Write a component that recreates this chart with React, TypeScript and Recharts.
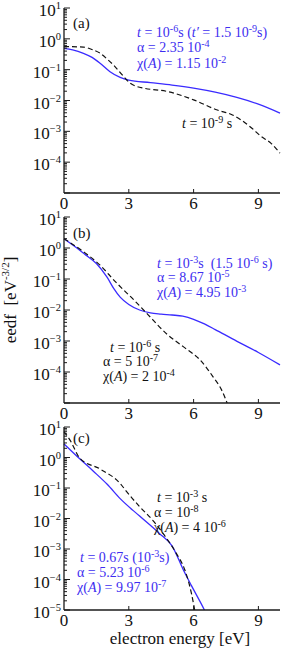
import React from 'react';
import { LineChart, Line, XAxis, YAxis } from 'recharts';

const BLUE = '#3a2bff';
const TEXT_BLUE = '#3d2ef0';
const AXIS = '#1a1a1a';
const FONT = '"Liberation Serif", "Times New Roman", serif';

// energy [eV] / eedf values
const energyA_blue = [0, 0.4, 0.9, 1.3, 1.67, 2.13, 2.6, 3.0, 4.0, 5.0, 6.0, 7.0, 8.0, 9.0, 10];
const eedfA_blue = [0.49, 0.44, 0.34, 0.25, 0.162, 0.086, 0.056, 0.0457, 0.038, 0.0316, 0.0251, 0.0186, 0.0126, 0.0076, 0.0039];
const energyA_dash = [0, 0.9, 1.3, 1.67, 2.0, 2.3, 2.77, 3.07, 3.4, 3.7, 4.8, 6.0, 7.1, 7.8, 8.2, 8.7, 9.1, 9.6, 10];
const eedfA_dash = [0.56, 0.54, 0.45, 0.34, 0.22, 0.14, 0.059, 0.036, 0.028, 0.025, 0.0195, 0.0105, 0.0049, 0.0034, 0.00234, 0.00126, 0.00071, 0.0004, 0.000195];

const energyB_blue = [0, 0.5, 1.0, 1.5, 2.0, 2.3, 2.6, 3.0, 3.5, 4.0, 4.5, 5.0, 5.5, 6.0, 6.5, 7.0, 7.8, 9.0, 10];
const eedfB_blue = [2.0, 1.12, 0.6, 0.316, 0.112, 0.05, 0.026, 0.0151, 0.01, 0.0081, 0.0074, 0.0069, 0.0063, 0.005, 0.00355, 0.00234, 0.00117, 0.000427, 0.00017];
const energyB_dash = [0, 0.9, 1.67, 2.4, 2.75, 3.2, 3.83, 4.8, 5.6, 6.3, 6.9, 7.3, 7.55, 7.7];
const eedfB_dash = [2.0, 0.76, 0.28, 0.079, 0.045, 0.0224, 0.0078, 0.00158, 0.0006, 0.000245, 0.00007, 0.000026, 0.00001, 0.000005];

const energyC_blue = [0, 0.74, 1.36, 2.0, 2.6, 3.5, 4.4, 5.0, 5.55, 5.9, 6.5, 6.7];
const eedfC_blue = [2.8, 0.89, 0.355, 0.132, 0.0447, 0.012, 0.0033, 0.00126, 0.00019, 0.000063, 0.00001, 0.000005];
const energyC_dash = [0, 0.3, 0.74, 1.67, 2.6, 2.9, 3.5, 4.1, 4.7, 5.2, 5.6, 5.9, 6.05, 6.1];
const eedfC_dash = [7.1, 3.5, 0.93, 0.42, 0.141, 0.076, 0.0245, 0.0089, 0.0025, 0.00072, 0.0002, 0.000035, 0.00001, 0.0000063];

const xTicks = [0, 3, 6, 9];
const majorTicks = [1e-5, 1e-4, 1e-3, 1e-2, 1e-1, 1, 10];
const minorMult = [2, 3, 4, 5, 6, 7, 8, 9];

const yTicks: number[] = [];
majorTicks.forEach((m, i) => {
  yTicks.push(m);
  if (i < majorTicks.length - 1) minorMult.forEach((k) => yTicks.push(m * k));
});

const toData = (e: number[], v: number[]) => e.map((x, i) => ({ e: x, v: v[i] }));

const YTick = (props: any, showBottom: boolean) => {
  const { x, y, payload } = props;
  const lg = Math.log10(payload.value);
  const major = Math.abs(lg - Math.round(lg)) < 1e-6;
  const exp = Math.round(lg);
  const showLabel = major && (showBottom || exp > -5);
  return (
    <g>
      <line x1={x} x2={x + (major ? 6 : 3)} y1={y} y2={y} stroke={AXIS} strokeWidth={1} />
      {showLabel && (
        <text x={x - 3} y={y + 8} textAnchor="end" fontSize={17} fontFamily={FONT} fill="#111">
          10
          <tspan dy={-7} fontSize={10.5}>
            {exp < 0 ? '\u2212' + Math.abs(exp) : String(exp)}
          </tspan>
        </text>
      )}
    </g>
  );
};

const XTick = (props: any) => {
  const { x, y, payload } = props;
  return (
    <g>
      {payload.value !== 0 && <line x1={x} x2={x} y1={y} y2={y - 4} stroke={AXIS} strokeWidth={1} />}
      <text x={x} y={y + 16} textAnchor="middle" fontSize={17} fontFamily={FONT} fill="#111">
        {payload.value}
      </text>
    </g>
  );
};

interface PanelProps {
  top: number;
  height: number;
  xAxisHeight: number;
  blue: { e: number; v: number }[];
  dash: { e: number; v: number }[];
  showBottom?: boolean;
}

const Panel: React.FC<PanelProps> = ({ top, height, xAxisHeight, blue, dash, showBottom = false }) => (
  <div style={{ position: 'absolute', left: 0, top }}>
    <LineChart width={281} height={height} margin={{ top: 14, right: 1, left: 0, bottom: 0 }}>
      <XAxis
        dataKey="e"
        type="number"
        domain={[0, 10]}
        ticks={xTicks}
        interval={0}
        height={xAxisHeight}
        tickSize={0}
        tickMargin={0}
        tickLine={false}
        axisLine={{ stroke: AXIS, strokeWidth: 1.3 }}
        tick={XTick}
      />
      <XAxis xAxisId="top" orientation="top" type="number" domain={[0, 10]} height={0} tick={false} tickLine={false} axisLine={{ stroke: AXIS, strokeWidth: 1.3 }} />
      <YAxis
        type="number"
        scale="log"
        domain={[1e-5, 10]}
        allowDataOverflow
        ticks={yTicks}
        interval={0}
        width={64}
        tickSize={0}
        tickMargin={0}
        tickLine={false}
        axisLine={{ stroke: AXIS, strokeWidth: 1.3 }}
        tick={(p: any) => YTick(p, showBottom)}
      />
      <YAxis yAxisId="right" orientation="right" width={0} tick={false} tickLine={false} axisLine={{ stroke: AXIS, strokeWidth: 1.3 }} />
      <Line data={blue} dataKey="v" type="monotone" stroke={BLUE} strokeWidth={1.3} dot={false} isAnimationActive={false} />
      <Line data={dash} dataKey="v" type="monotone" stroke="#111" strokeWidth={1.2} strokeDasharray="5 3" dot={false} isAnimationActive={false} />
    </LineChart>
  </div>
);

type Seg = { t: string; sup?: boolean; it?: boolean };

const Rich: React.FC<{ x: number; y: number; segs: Seg[]; fill: string; size?: number }> = ({ x, y, segs, fill, size = 14 }) => {
  let up = false;
  return (
    <text x={x} y={y} fontSize={size} fontFamily={FONT} fill={fill}>
      {segs.map((s, i) => {
        let dy = 0;
        if (s.sup && !up) { dy = -5; up = true; }
        else if (!s.sup && up) { dy = 5; up = false; }
        return (
          <tspan key={i} dy={dy} fontSize={s.sup ? size * 0.72 : size} fontStyle={s.it ? 'italic' : 'normal'}>
            {s.t}
          </tspan>
        );
      })}
    </text>
  );
};

const Annotations = () => (
  <svg width={281} height={648} style={{ position: 'absolute', left: 0, top: 0, pointerEvents: 'none' }}>
    {/* panel (a) */}
    <Rich x={73} y={28} fill="#111" size={15} segs={[{ t: '(a)' }]} />
    <Rich x={137} y={37} fill={TEXT_BLUE} segs={[{ t: 't', it: true }, { t: ' = 10' }, { t: '-6', sup: true }, { t: 's (' }, { t: 't\u2032', it: true }, { t: ' = 1.5 10' }, { t: '-9', sup: true }, { t: 's)' }]} />
    <Rich x={137} y={52} fill={TEXT_BLUE} segs={[{ t: '\u03b1 = 2.35 10' }, { t: '-4', sup: true }]} />
    <Rich x={137} y={68} fill={TEXT_BLUE} segs={[{ t: '\u03c7(' }, { t: 'A', it: true }, { t: ') = 1.15 10' }, { t: '-2', sup: true }]} />
    <Rich x={182} y={128} fill="#111" segs={[{ t: 't', it: true }, { t: ' = 10' }, { t: '-9', sup: true }, { t: ' s' }]} />

    {/* panel (b) */}
    <Rich x={73} y={238} fill="#111" size={15} segs={[{ t: '(b)' }]} />
    <Rich x={157} y={268} fill={TEXT_BLUE} segs={[{ t: 't', it: true }, { t: ' = 10' }, { t: '-3', sup: true }, { t: 's\u00a0 (1.5 10' }, { t: '-6', sup: true }, { t: ' s)' }]} />
    <Rich x={157} y={282} fill={TEXT_BLUE} segs={[{ t: '\u03b1 = 8.67 10' }, { t: '-5', sup: true }]} />
    <Rich x={157} y={297} fill={TEXT_BLUE} segs={[{ t: '\u03c7(' }, { t: 'A', it: true }, { t: ') = 4.95 10' }, { t: '-3', sup: true }]} />
    <Rich x={110} y={352} fill="#111" segs={[{ t: 't', it: true }, { t: ' = 10' }, { t: '-6', sup: true }, { t: ' s' }]} />
    <Rich x={103} y={366} fill="#111" segs={[{ t: '\u03b1 = 5 10' }, { t: '-7', sup: true }]} />
    <Rich x={103} y={381} fill="#111" segs={[{ t: '\u03c7(' }, { t: 'A', it: true }, { t: ') = 2 10' }, { t: '-4', sup: true }]} />

    {/* panel (c) */}
    <Rich x={73} y={443} fill="#111" size={15} segs={[{ t: '(c)' }]} />
    <Rich x={157} y={502} fill="#111" segs={[{ t: 't', it: true }, { t: ' = 10' }, { t: '-3', sup: true }, { t: ' s' }]} />
    <Rich x={154} y={517} fill="#111" segs={[{ t: '\u03b1 = 10' }, { t: '-8', sup: true }]} />
    <Rich x={154} y={532} fill="#111" segs={[{ t: '\u03c7(' }, { t: 'A', it: true }, { t: ') = 4 10' }, { t: '-6', sup: true }]} />
    <Rich x={80} y={562} fill={TEXT_BLUE} segs={[{ t: 't', it: true }, { t: ' = 0.67s (10' }, { t: '-3', sup: true }, { t: 's)' }]} />
    <Rich x={77} y={577} fill={TEXT_BLUE} segs={[{ t: '\u03b1 = 5.23 10' }, { t: '-6', sup: true }]} />
    <Rich x={77} y={592} fill={TEXT_BLUE} segs={[{ t: '\u03c7(' }, { t: 'A', it: true }, { t: ') = 9.97 10' }, { t: '-7', sup: true }]} />

    {/* axis titles */}
    <text x={180} y={644} textAnchor="middle" fontSize={17} fontFamily={FONT} fill="#111">
      electron energy [eV]
    </text>
    <text transform="translate(16,300) rotate(-90)" textAnchor="middle" fontSize={17} fontFamily={FONT} fill="#111">
      {'eedf\u00a0 [eV'}
      <tspan dy={-7} fontSize={11}>-3/2</tspan>
      <tspan dy={7}>]</tspan>
    </text>
  </svg>
);

export default function App() {
  return (
    <div style={{ position: 'absolute', left: 0, top: 0, width: 281, height: 648, background: '#fff', overflow: 'hidden' }}>
      <Panel top={-6} height={221} xAxisHeight={22} blue={toData(energyA_blue, eedfA_blue)} dash={toData(energyA_dash, eedfA_dash)} />
      <Panel top={203} height={222} xAxisHeight={22} blue={toData(energyB_blue, eedfB_blue)} dash={toData(energyB_dash, eedfB_dash)} />
      <Panel top={413} height={235} xAxisHeight={38} blue={toData(energyC_blue, eedfC_blue)} dash={toData(energyC_dash, eedfC_dash)} showBottom />
      <Annotations />
    </div>
  );
}
